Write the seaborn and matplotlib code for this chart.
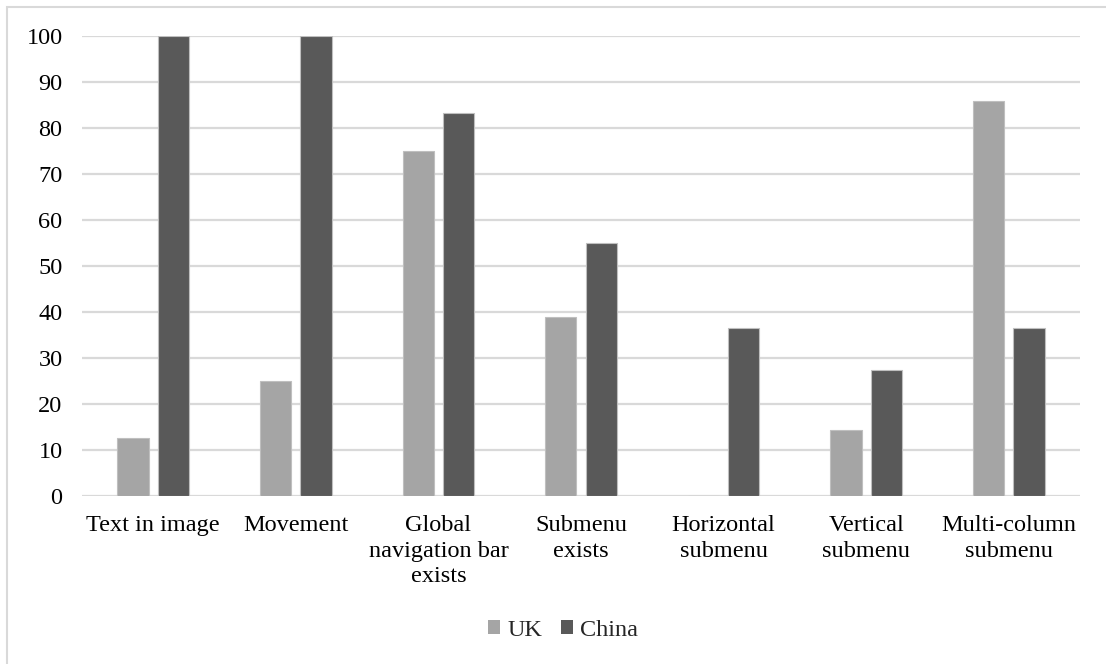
import matplotlib
matplotlib.use("Agg")
import matplotlib.pyplot as plt
import seaborn as sns
import pandas as pd
from matplotlib.patches import Rectangle

categories = [
    "Text in image",
    "Movement",
    "Global\nnavigation bar\nexists",
    "Submenu\nexists",
    "Horizontal\nsubmenu",
    "Vertical\nsubmenu",
    "Multi-column\nsubmenu",
]
series_names = ["UK", "China"]
uk_values = [12.5, 25.0, 75.0, 38.9, 0.0, 14.3, 85.7]
china_values = [100.0, 100.0, 83.3, 55.0, 36.4, 27.3, 36.4]
y_ticks = [0, 10, 20, 30, 40, 50, 60, 70, 80, 90, 100]

df = pd.DataFrame({
    "category": categories * 2,
    "country": [series_names[0]] * len(categories) + [series_names[1]] * len(categories),
    "value": uk_values + china_values,
})

sns.set_theme(style="white")
plt.rcParams["font.family"] = ["Liberation Serif", "DejaVu Serif"]

W, H = 1106, 664
fig = plt.figure(figsize=(W / 100, H / 100), dpi=100)
ax = fig.add_axes([82 / W, 1 - 495.7 / H, (1080 - 82) / W, (495.7 - 35.7) / H])

palette = {"UK": "#A5A5A5", "China": "#595959"}
sns.barplot(
    data=df, x="category", y="value", hue="country", order=categories,
    hue_order=series_names, palette=palette, width=0.567, gap=0.224,
    saturation=1, ax=ax, legend=False, edgecolor="#BFBFBF", linewidth=0.8,
    zorder=3,
)

ax.set_ylim(0, 100)
ax.set_xlim(-0.5, len(categories) - 0.5)
ax.set_yticks(y_ticks)
ax.yaxis.grid(True, color="#D9D9D9", linewidth=1.6, zorder=0)
ax.set_axisbelow(True)
for s in ax.spines.values():
    s.set_visible(False)
ax.tick_params(axis="both", length=0, labelsize=17.5, colors="#000000")
ax.tick_params(axis="y", pad=14)
ax.tick_params(axis="x", pad=14)
for lbl in ax.get_xticklabels():
    lbl.set_linespacing(1.28)
ax.set_xlabel("")
ax.set_ylabel("")

handles = [Rectangle((0, 0), 1, 1, facecolor=palette[n], edgecolor="none") for n in series_names]
fig.legend(handles, series_names, loc="center", bbox_to_anchor=(563 / W, 1 - 630 / H),
           ncol=2, frameon=False, fontsize=17.5, handlelength=0.5, handleheight=0.5,
           handletextpad=0.3, columnspacing=0.75, borderpad=0.2)

# outer frame: visible along the top and left edges only
fig.patches.append(Rectangle((7 / W, -0.5), 2.0, 1.5 - 7 / H,
                             transform=fig.transFigure, fill=False,
                             edgecolor="#D9D9D9", linewidth=1.5))

fig.savefig("out.png", dpi=100)
